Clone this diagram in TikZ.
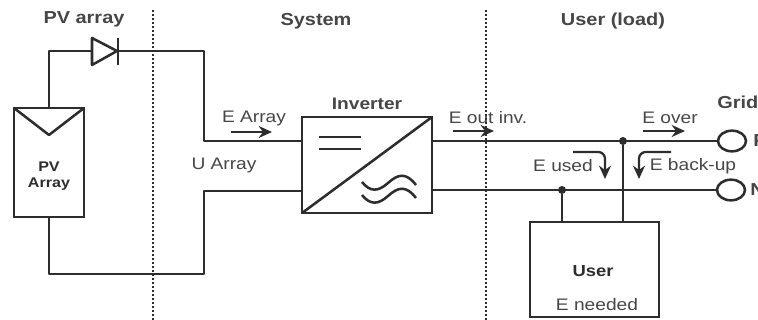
\documentclass[tikz,border=0pt]{standalone}
\usepackage{xcolor}
\usepackage{fontspec}
\setmainfont[FakeStretch=1.15]{Liberation Sans}
\usepackage{tikz}
\usetikzlibrary{arrows.meta, positioning, shapes.geometric}
\definecolor{wirecol}{RGB}{45,45,45}
\definecolor{labelcol}{RGB}{70,70,70}
\tikzstyle{unit}   = [rectangle, draw=wirecol, line width=1.9pt, outer sep=0pt, inner sep=0pt]
\tikzstyle{term}   = [ellipse, draw=wirecol, line width=1.9pt, minimum width=21pt, minimum height=15.5pt, outer sep=0pt, inner sep=0pt]
\tikzstyle{wire}   = [draw=wirecol, line width=1.9pt]
\tikzstyle{border} = [draw=wirecol, line width=1.5pt, dash pattern=on 1.6pt off 1.4pt]
\tikzstyle{arr}    = [-{Stealth[length=10pt, width=9pt]}, draw=wirecol, line width=1.7pt, rounded corners=5pt]
\tikzstyle{head}   = [font=\fontsize{13}{15}\selectfont\bfseries, text=labelcol, inner sep=0pt]
\tikzstyle{lab}    = [font=\fontsize{12.5}{15}\selectfont, text=labelcol, inner sep=0pt]
\tikzstyle{unitlab}= [font=\fontsize{10.5}{12.5}\selectfont\bfseries, text=wirecol, inner sep=0pt, align=center]
\tikzstyle{dot}    = [circle, fill=wirecol, minimum size=6pt, inner sep=0pt]
\begin{document}
\begin{tikzpicture}[x=0.75pt, y=-0.75pt]
    \useasboundingbox (0,0) rectangle (758,320);

    % zone borders
    \coordinate (b1a) at (153,10);
    \coordinate (b1b) at (153,320);
    \coordinate (b2a) at (486,10);
    \coordinate (b2b) at (486,320);

    \node[unit, minimum width=52.5pt, minimum height=81.75pt] (pv) at (49,162.5) {};
    \node[unit, minimum width=97.5pt, minimum height=72pt, right=163.5pt of pv, yshift=-1.9pt] (inv) {};
    \node[unit, minimum width=96.75pt, minimum height=71.25pt, below right=6.75pt and 73.5pt of inv] (user) {};
    \node[term] (gridP) at (732,141) {};
    \node[term] (gridN) at (731,190) {};

    \node[unitlab] at (49,176) (pvlab) {PV\\Array};
    \node[head, font=\fontsize{12.5}{14}\selectfont\bfseries, above=5pt of inv] (invlab) {Inverter};
    \node[unitlab, font=\fontsize{12}{14}\selectfont\bfseries] at (593,271) (userlab) {User};
    \node[lab] at (597,305) (needlab) {E needed};

    \node[head] at (84,19) (zone1) {PV array};
    \node[head] at (316,21) (zone2) {System};
    \node[head] at (613,21) (zone3) {User (load)};
    \node[head, anchor=west] at (717,102) (gridlab) {Grid};
    \node[head, anchor=west] at (753,141) (plab) {P};
    \node[head, anchor=west] at (750,190) (nlab) {N};

    \node[lab] at (254,118) (earray) {E Array};
    \node[lab] at (224,165) (uarray) {U Array};
    \node[lab] at (488,118) (eout) {E out inv.};
    \node[lab] at (670,118) (eover) {E over};
    \node[lab] at (563,166) (eused) {E used};
    \node[lab] at (693,166) (eback) {E back-up};

    % wires
    \coordinate (dA) at (92,51);
    \coordinate (dK) at (118,51);
    \coordinate (c1) at (204,51);
    \coordinate (c2) at (204,141);
    \coordinate (c3) at (204,191);
    \coordinate (c4) at (204,274);
    \draw[wire, line join=round] (pv.north) |- (dA);
    \draw[wire, line join=round] (dA) ++(0,-13) -- ++(0,27) -- (117,51) -- cycle;
    \draw[wire] (dK) ++(0,-13) -- ++(0,27);
    \draw[wire, line join=round] (dK) -- (c1) -- (c2) -- (inv.west |- c2);
    \draw[wire, line join=round] (inv.west |- c3) -- (c3) -- (c4) -- (pv.south |- c4) -- (pv.south);
    \draw[wire] (inv.east |- gridP) -- (gridP);
    \draw[wire] (inv.east |- gridN) -- (gridN);

    \node[dot] (j1) at (623,141) {};
    \node[dot] (j2) at (562,190) {};
    \draw[wire] (j1) -- (j1 |- user.north);
    \draw[wire] (j2) -- (j2 |- user.north);

    % module and inverter marks
    \draw[wire, line join=round] (pv.north west) -- (49,135) -- (pv.north east);
    \draw[wire] (inv.south west) -- (inv.north east);
    \draw[wire] (319,137) -- (361,137);
    \draw[wire] (319,149) -- (361,149);
    \draw[wire] (362,182) .. controls (370,192) and (378,192) .. (388,183) .. controls (398,174) and (406,172) .. (416,185);
    \draw[wire] (362,195) .. controls (370,205) and (378,205) .. (388,196) .. controls (398,187) and (406,185) .. (416,198);

    % energy arrows
    \draw[arr] (231,132) -- (272,132);
    \draw[arr] (453,131) -- (494,131);
    \draw[arr] (643,131) -- (685,131);
    \draw[arr] (573,152) -- (605,152) -- (605,179);
    \draw[arr] (671,152) -- (639,152) -- (639,179);

    \draw[border] (b1a) -- (b1b);
    \draw[border] (b2a) -- (b2b);
\end{tikzpicture}
\end{document}
